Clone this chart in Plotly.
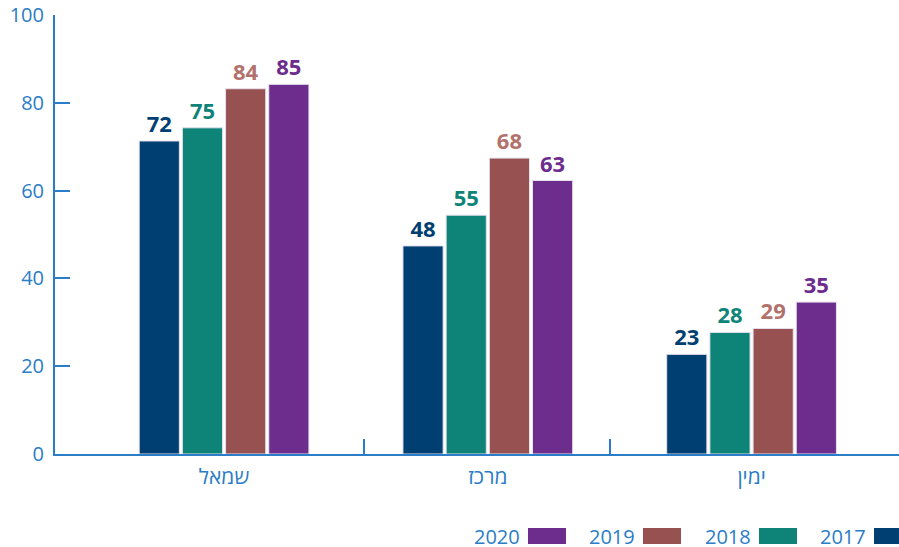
import plotly.graph_objects as go

categories = ["שמאל", "מרכז", "ימין"]
years = ["2017", "2018", "2019", "2020"]
values_2017 = [71.3, 47.4, 22.7]
values_2018 = [74.3, 54.4, 27.7]
values_2019 = [83.2, 67.4, 28.6]
values_2020 = [84.2, 62.3, 34.6]
labels_2017 = [72, 48, 23]
labels_2018 = [75, 55, 28]
labels_2019 = [84, 68, 29]
labels_2020 = [85, 63, 35]
y_ticks = [0, 20, 40, 60, 80, 100]

series = [
    (years[0], values_2017, labels_2017, "#003f71", "#003f71"),
    (years[1], values_2018, labels_2018, "#0e8479", "#0e8479"),
    (years[2], values_2019, labels_2019, "#965150", "#b3716b"),
    (years[3], values_2020, labels_2020, "#6c2d8d", "#6c2d8d"),
]

blue = "#2a7dc6"
font = "Open Sans, DejaVu Sans, sans-serif"
W, H = 899, 547
L, R, T, B = 55, 0, 15, 93

x_pos = list(range(len(categories)))
dividers = [0.5307, 1.4644]

fig = go.Figure()
for name, vals, labs, color, lab_color in series:
    fig.add_trace(go.Bar(
        x=x_pos, y=vals, name=name,
        marker=dict(color=color, line=dict(color="#e6e0ec", width=1)),
        text=[str(v) for v in labs], textposition="outside",
        textfont=dict(family=font, size=22, color=lab_color, weight="bold"),
        cliponaxis=False, showlegend=False,
    ))

# invisible trace to carry category labels axis
fig.add_trace(go.Scatter(x=x_pos, y=[0] * len(x_pos), xaxis="x2", mode="markers",
                         marker=dict(opacity=0), showlegend=False, hoverinfo="skip"))

xr = [-0.641, 2.559]
fig.update_layout(
    width=W, height=H,
    margin=dict(l=L, r=R, t=T, b=B, autoexpand=False),
    plot_bgcolor="white", paper_bgcolor="white",
    barmode="group", bargap=0.345, bargroupgap=0.07,
    xaxis=dict(range=xr, showline=True, linecolor=blue, linewidth=2, automargin=False,
               ticks="inside", tickvals=dividers, ticklen=15, tickwidth=2, tickcolor=blue,
               showticklabels=False, showgrid=False, zeroline=False),
    xaxis2=dict(range=xr, overlaying="x", anchor="y", side="bottom", automargin=False,
                tickvals=x_pos, ticktext=categories, ticks="", showline=False,
                showgrid=False, zeroline=False, ticklabelstandoff=8,
                tickfont=dict(family=font, size=21, color=blue)),
    yaxis=dict(range=[0, 100], tickvals=y_ticks, showline=True, linecolor=blue, linewidth=2,
               ticks="inside", ticklen=15, tickwidth=2, tickcolor=blue, automargin=False,
               showgrid=False, zeroline=False, ticklabelstandoff=5,
               tickfont=dict(family=font, size=20, color=blue)),
)

# legend: text on the left of the swatch, right-to-left order
pw, ph = W - L - R, H - T - B


def px_x(p):
    return (p - L) / pw


def px_y(p):
    return (H - B - p) / ph


swatch_lefts = [874, 759, 643, 528]
for (name, vals, labs, color, lab_color), sx in zip(series, swatch_lefts):
    fig.add_shape(type="rect", xref="paper", yref="paper",
                  x0=px_x(sx), x1=px_x(sx + 38), y0=px_y(544), y1=px_y(528),
                  fillcolor=color, line=dict(width=0))
    fig.add_annotation(xref="paper", yref="paper", x=px_x(sx - 6), y=px_y(536),
                       text=name, showarrow=False, xanchor="right", yanchor="middle",
                       font=dict(family=font, size=20, color=blue))

fig.write_html("out.html", config={"displayModeBar": False},
               post_script="document.body.style.margin='0';")
